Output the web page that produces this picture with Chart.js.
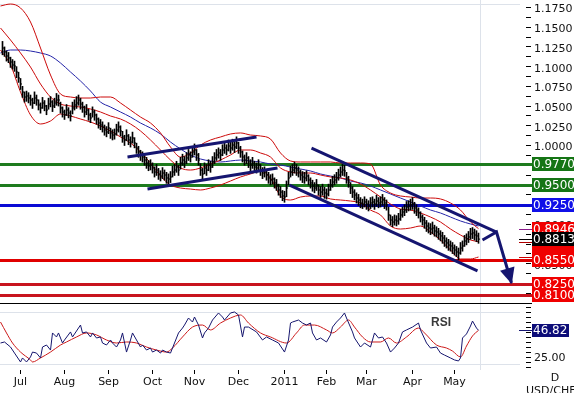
<!DOCTYPE html>
<html><head><meta charset="utf-8">
<script src="https://cdn.jsdelivr.net/npm/chart.js@4/dist/chart.umd.min.js"></script>
<style>
html,body{margin:0;padding:0;background:#fff;overflow:hidden;}
#wrap{position:relative;width:574px;height:393px;}
canvas{position:absolute;left:0;}
#c1{top:0}
#c2{top:304px}
</style></head><body>
<div id="wrap"><canvas id="c1" width="574" height="304"></canvas><canvas id="c2" width="574" height="89"></canvas></div>
<script>
// ---------- DATA (USD/CHF daily, index 0 = 1 Jul 2010, one step per weekday) ----------
const firstBarIndex = -9;
const highs = [
1.132,1.125,1.120,1.118,1.112,1.109,1.107,1.100,1.093,1.085,
1.075,1.068,1.069,1.067,1.064,1.060,1.068,1.064,1.058,1.054,
1.061,1.057,1.051,1.060,1.062,1.057,1.060,1.066,1.064,1.055,
1.049,1.045,1.052,1.048,1.044,1.055,1.058,1.062,1.064,1.060,
1.055,1.050,1.052,1.046,1.041,1.049,1.045,1.040,1.035,1.033,
1.030,1.026,1.024,1.029,1.022,1.020,1.021,1.027,1.030,1.025,
1.018,1.013,1.020,1.014,1.011,1.017,1.010,1.003,0.999,0.994,
0.992,0.988,0.985,0.981,0.982,0.978,0.973,0.976,0.971,0.968,
0.972,0.969,0.966,0.964,0.967,0.974,0.976,0.980,0.975,0.985,
0.989,0.986,0.991,0.995,0.992,0.999,1.002,0.995,0.990,0.977,
0.971,0.978,0.976,0.982,0.980,0.986,0.991,0.995,0.997,0.995,
1.001,1.004,1.001,1.007,1.004,1.008,1.005,1.011,1.004,0.999,
0.993,0.988,0.991,0.986,0.982,0.985,0.980,0.978,0.982,0.976,
0.972,0.973,0.969,0.966,0.963,0.964,0.959,0.957,0.951,0.948,
0.943,0.942,0.955,0.966,0.974,0.976,0.979,0.976,0.973,0.969,
0.967,0.966,0.968,0.963,0.959,0.956,0.953,0.957,0.950,0.948,
0.951,0.947,0.945,0.951,0.957,0.961,0.963,0.966,0.970,0.973,
0.976,0.975,0.966,0.961,0.953,0.948,0.944,0.940,0.938,0.934,
0.932,0.935,0.932,0.930,0.934,0.935,0.932,0.937,0.934,0.935,
0.938,0.934,0.931,0.922,0.912,0.910,0.912,0.911,0.914,0.919,
0.922,0.925,0.929,0.930,0.932,0.934,0.928,0.925,0.921,0.916,
0.912,0.909,0.905,0.902,0.901,0.903,0.899,0.897,0.895,0.892,
0.890,0.886,0.883,0.881,0.879,0.877,0.874,0.872,0.870,0.877,
0.879,0.886,0.888,0.891,0.895,0.896,0.894,0.892,0.889];
const lows = [
1.115,1.113,1.107,1.105,1.099,1.097,1.094,1.086,1.080,1.071,
1.061,1.055,1.056,1.054,1.051,1.047,1.053,1.051,1.045,1.041,
1.047,1.044,1.039,1.046,1.049,1.043,1.048,1.051,1.050,1.041,
1.036,1.033,1.038,1.035,1.031,1.040,1.045,1.047,1.051,1.046,
1.042,1.036,1.039,1.032,1.029,1.036,1.032,1.027,1.022,1.020,
1.017,1.013,1.011,1.015,1.009,1.007,1.008,1.013,1.017,1.012,
1.004,1.000,1.006,1.001,0.998,1.003,0.997,0.990,0.985,0.981,
0.979,0.975,0.971,0.968,0.969,0.965,0.960,0.962,0.957,0.955,
0.958,0.956,0.952,0.951,0.953,0.960,0.962,0.966,0.962,0.970,
0.975,0.972,0.977,0.981,0.979,0.985,0.988,0.981,0.975,0.962,
0.957,0.964,0.962,0.968,0.966,0.972,0.977,0.981,0.984,0.981,
0.987,0.990,0.988,0.993,0.990,0.994,0.991,0.996,0.990,0.985,
0.979,0.975,0.977,0.972,0.968,0.971,0.966,0.965,0.968,0.962,
0.958,0.960,0.956,0.952,0.950,0.951,0.946,0.943,0.937,0.934,
0.930,0.928,0.935,0.950,0.960,0.962,0.965,0.962,0.960,0.956,
0.953,0.952,0.955,0.950,0.946,0.942,0.940,0.943,0.937,0.934,
0.937,0.933,0.932,0.936,0.943,0.947,0.950,0.952,0.956,0.960,
0.962,0.961,0.952,0.947,0.939,0.934,0.931,0.927,0.924,0.921,
0.920,0.922,0.919,0.917,0.920,0.922,0.919,0.923,0.921,0.922,
0.924,0.920,0.918,0.905,0.899,0.897,0.899,0.898,0.900,0.905,
0.909,0.911,0.915,0.917,0.918,0.919,0.914,0.911,0.908,0.903,
0.899,0.895,0.891,0.889,0.887,0.888,0.885,0.884,0.881,0.879,
0.876,0.872,0.870,0.867,0.866,0.863,0.861,0.859,0.855,0.862,
0.866,0.872,0.874,0.877,0.881,0.882,0.880,0.878,0.876];
const closes = [
1.1236,1.1186,1.1135,1.1110,1.1059,1.1021,1.1008,1.0932,1.0856,1.0780,
1.0678,1.0615,1.0628,1.0602,1.0577,1.0539,1.0602,1.0577,1.0514,1.0476,
1.0539,1.0501,1.0450,1.0526,1.0552,1.0501,1.0539,1.0577,1.0577,1.0476,
1.0425,1.0387,1.0450,1.0412,1.0374,1.0476,1.0514,1.0539,1.0577,1.0526,
1.0488,1.0425,1.0450,1.0387,1.0349,1.0425,1.0387,1.0336,1.0285,1.0260,
1.0235,1.0197,1.0171,1.0222,1.0159,1.0133,1.0146,1.0197,1.0235,1.0184,
1.0108,1.0070,1.0121,1.0070,1.0044,1.0095,1.0032,0.9968,0.9918,0.9880,
0.9854,0.9816,0.9778,0.9740,0.9753,0.9715,0.9664,0.9689,0.9639,0.9613,
0.9651,0.9626,0.9588,0.9575,0.9601,0.9664,0.9689,0.9727,0.9689,0.9778,
0.9816,0.9791,0.9842,0.9880,0.9854,0.9918,0.9943,0.9880,0.9816,0.9689,
0.9639,0.9715,0.9689,0.9753,0.9727,0.9791,0.9842,0.9880,0.9905,0.9880,
0.9943,0.9968,0.9943,0.9994,0.9968,1.0006,0.9981,1.0032,0.9968,0.9918,
0.9854,0.9816,0.9842,0.9791,0.9753,0.9778,0.9727,0.9715,0.9753,0.9689,
0.9651,0.9664,0.9626,0.9588,0.9563,0.9575,0.9525,0.9499,0.9436,0.9410,
0.9360,0.9347,0.9461,0.9588,0.9664,0.9689,0.9715,0.9689,0.9664,0.9626,
0.9601,0.9588,0.9613,0.9563,0.9525,0.9487,0.9461,0.9499,0.9436,0.9410,
0.9436,0.9398,0.9385,0.9436,0.9499,0.9537,0.9563,0.9588,0.9626,0.9664,
0.9689,0.9677,0.9588,0.9537,0.9461,0.9410,0.9372,0.9334,0.9309,0.9271,
0.9258,0.9284,0.9258,0.9233,0.9271,0.9284,0.9258,0.9296,0.9271,0.9284,
0.9309,0.9271,0.9246,0.9119,0.9055,0.9030,0.9055,0.9043,0.9068,0.9119,
0.9157,0.9182,0.9220,0.9233,0.9246,0.9258,0.9208,0.9182,0.9144,0.9093,
0.9055,0.9017,0.8979,0.8954,0.8941,0.8954,0.8916,0.8903,0.8878,0.8853,
0.8827,0.8789,0.8764,0.8738,0.8726,0.8700,0.8675,0.8650,0.8637,0.8700,
0.8726,0.8789,0.8814,0.8840,0.8878,0.8891,0.8865,0.8853,0.8813];

const bandIdx = [-10,-5,0,5,10,15,20,25,30,35,40,45,50,55,60,65,70,75,80,85,90,95,100,105,110,115,120,125,130,135,140,145,150,155,160,165,170,175,180,185,190,195,200,205,210,215,220,225,229];
const bbUpper = [1.1769,1.1794,1.1744,1.1566,1.1236,1.0894,1.0653,1.0615,1.0602,1.0602,
1.0615,1.0615,1.0539,1.0450,1.0361,1.0285,1.0159,0.9981,0.9854,0.9905,
1.0006,1.0070,1.0108,1.0146,1.0159,1.0133,1.0121,1.0082,0.9905,0.9804,
0.9791,0.9791,0.9791,0.9791,0.9778,0.9778,0.9778,0.9765,0.9499,0.9398,
0.9360,0.9347,0.9334,0.9334,0.9322,0.9271,0.9182,0.9030,0.8946];
const bbMiddle = [1.1490,1.1338,1.1173,1.0995,1.0780,1.0615,1.0526,1.0501,1.0488,1.0463,
1.0425,1.0374,1.0336,1.0273,1.0184,1.0070,0.9943,0.9816,0.9715,0.9689,
0.9715,0.9765,0.9816,0.9880,0.9943,0.9943,0.9905,0.9854,0.9715,0.9664,
0.9651,0.9651,0.9626,0.9601,0.9588,0.9563,0.9512,0.9436,0.9347,0.9258,
0.9195,0.9182,0.9144,0.9093,0.9030,0.8941,0.8865,0.8802,0.8780];
const bbLower = [1.1211,1.1021,1.0678,1.0387,1.0273,1.0311,1.0399,1.0374,1.0336,1.0298,
1.0247,1.0184,1.0108,1.0032,0.9918,0.9778,0.9613,0.9499,0.9461,0.9448,
0.9436,0.9461,0.9499,0.9550,0.9601,0.9639,0.9677,0.9588,0.9360,0.9309,
0.9347,0.9360,0.9360,0.9322,0.9309,0.9296,0.9271,0.9182,0.9119,0.8979,
0.8941,0.8954,0.8979,0.8903,0.8802,0.8675,0.8561,0.8561,0.8586];
const maBlue = [1.1173,1.1211,1.1211,1.1198,1.1173,1.1135,1.1046,1.0932,1.0818,1.0691,
1.0551,1.0488,1.0425,1.0361,1.0285,1.0222,1.0146,1.0044,0.9956,0.9880,
0.9829,0.9804,0.9791,0.9804,0.9816,0.9804,0.9791,0.9765,0.9753,0.9727,
0.9702,0.9677,0.9639,0.9613,0.9588,0.9550,0.9525,0.9487,0.9436,0.9385,
0.9334,0.9284,0.9233,0.9182,0.9144,0.9093,0.9043,0.9005,0.8979];

// support / resistance levels
const levelValues = [0.9770, 0.9500, 0.9250, 0.8550, 0.8250, 0.8100];
// trend channels and projected arrow [index, price]
const chanRiseTop    = [[53.5, 0.9854], [118, 1.0108]];
const chanRiseBottom = [[63.5, 0.9448], [128.5, 0.9715]];
const chanFallTop    = [[145.5, 0.9968], [238, 0.8903]];
const chanFallBottom = [[134.5, 0.9499], [228.5, 0.8409]];
const arrowPath      = [[231, 0.8802], [238, 0.8903], [245.5, 0.8257]];

// axis labels
const priceTickValues = [1.175,1.15,1.125,1.1,1.075,1.05,1.025,1.0,0.975,0.95,0.925,0.9,0.875,0.85,0.825];
const priceMarkValues = [0.9770, 0.9500, 0.9250, 0.8946, 0.8550, 0.8250, 0.8100, 0.8813];
const priceMarkLabels = ['0.9770','0.9500','0.9250','0.8946','0.8550','0.8250','0.8100','0.8813'];
const monthTicks  = [0, 22, 44, 66, 87, 109, 132, 153, 173, 196, 217];
const monthLabels = ['Jul','Aug','Sep','Oct','Nov','Dec','2011','Feb','Mar','Apr','May'];

// RSI panel
const rsiIdx = [-10,-8,-5,-3,0,1,3,5,6,8,10,11,13,15,16,18,19,21,22,25,26,30,31,33,35,36,38,40,41,43,45,46,48,50,51,53,55,56,58,60,61,63,65,66,68,70,71,73,75,76,77,79,81,82,84,86,87,89,91,92,94,96,99,101,102,105,107,109,111,112,114,118,121,123,126,129,132,134,135,136,139,141,143,145,146,148,150,153,155,156,158,160,162,163,166,167,170,172,175,177,179,181,183,185,187,189,191,193,196,199,200,203,205,208,210,212,215,217,219,220,221,223,225,226,228,229];
const rsiVal = [36.7,37.5,33.5,28.7,21.6,24.8,21.6,25.6,29.5,28.7,24.8,33.5,35.1,31.1,44.7,41.5,44.7,36.7,39.1,45.5,41.5,51.0,44.7,45.5,41.5,44.7,40.7,41.5,36.7,35.1,39.1,36.7,33.5,39.1,44.7,29.5,39.1,44.7,39.1,33.5,35.1,31.1,32.7,29.5,31.1,28.7,31.1,29.5,28.7,32.7,36.7,44.7,48.6,51.0,56.6,53.4,57.4,51.0,40.7,44.7,48.6,55.0,60.6,57.4,55.0,60.6,61.4,59.0,41.5,49.4,49.4,45.5,39.1,41.5,39.1,36.7,29.5,39.1,52.6,53.4,55.0,52.6,51.0,52.6,44.7,39.1,40.7,37.5,43.1,49.4,53.4,56.6,60.6,56.6,45.5,40.7,33.5,36.7,33.5,44.7,40.7,41.5,36.7,29.5,32.7,36.7,45.5,47.1,49.4,52.6,47.1,36.7,32.7,33.5,28.7,27.1,24.8,23.2,22.4,24.8,40.7,43.9,50.2,54.2,48.6,46.82];
const rsiMaIdx = [-10,-7,-4,0,5,6,10,15,20,23,28,33,38,43,48,53,58,63,68,73,76,81,86,91,95,100,105,110,114,120,125,133,138,142,147,153,156,160,164,167,171,175,180,184,188,193,199,202,208,213,216,220,223,226,229];
const rsiMaVal = [53.4,44.7,36.7,29.5,23.2,21.6,24.8,29.5,35.1,37.5,41.5,44.7,43.1,39.1,36.7,37.5,36.7,33.5,31.1,29.5,32.7,41.5,49.4,51.0,47.1,52.6,56.6,59.0,52.6,44.7,41.5,36.7,44.7,51.0,51.0,47.1,44.7,49.4,55.0,49.4,41.5,37.5,37.5,40.7,36.7,41.5,48.6,44.7,35.1,32.7,30.3,25.6,34.3,42.3,46.82];
const rsiGuides = [20, 61.4];
const rsiTickValues = [25];

// ---------- STYLE ----------
const FONT = 'DejaVu Sans';
const X_MIN = -10.25, X_MAX = 252.75;
const P_MIN = 0.79903, P_MAX = 1.1845;
const R_MIN = 15.21, R_MAX = 67.75;
const levelColors = ['#1e7b1e','#1e7b1e','#0b0bd4','#e00000','#c8141e','#c8141e'];
const markColors = ['#157515','#157515','#1010e8','#f00000','#f00000','#f00000','#f00000','#000000'];
const NAVY = '#151570';
Chart.defaults.font.family = FONT;

const pts = (xs, ys) => xs.map((x, k) => ({x, y: ys[k]}));
const pairPts = arr => arr.map(p => ({x: p[0], y: p[1]}));
const lastIdx = firstBarIndex + closes.length - 1;

const lineDs = (data, color, width, order, extra) => Object.assign({
  type: 'line', data, borderColor: color, borderWidth: width, pointRadius: 0,
  fill: false, order, tension: 0
}, extra || {});

const priceOverlay = {
  id: 'priceOverlay',
  beforeDatasetsDraw(chart) {
    const {ctx, chartArea: a, scales: {x, y}} = chart;
    ctx.save();
    ctx.strokeStyle = '#dde2ea'; ctx.lineWidth = 1;
    const gy = Math.round(y.getPixelForValue(1.18)) + 0.5;
    ctx.beginPath(); ctx.moveTo(a.left, gy); ctx.lineTo(a.right - 6, gy); ctx.stroke();
    const vx = Math.round(x.getPixelForValue(lastIdx + 0.5)) + 0.5;
    ctx.beginPath(); ctx.moveTo(vx, a.top); ctx.lineTo(vx, a.bottom); ctx.stroke();
    levelValues.forEach((v, k) => {
      const py = Math.round(y.getPixelForValue(v)) + 0.5;
      ctx.strokeStyle = levelColors[k]; ctx.lineWidth = 3;
      ctx.beginPath(); ctx.moveTo(a.left, py); ctx.lineTo(a.right + 6, py); ctx.stroke();
    });
    ctx.restore();
  },
  afterDraw(chart) {
    const {ctx, scales: {x, y}} = chart;
    ctx.save();
    // arrowhead
    const p1 = {x: x.getPixelForValue(arrowPath[1][0]), y: y.getPixelForValue(arrowPath[1][1])};
    const p2 = {x: x.getPixelForValue(arrowPath[2][0]), y: y.getPixelForValue(arrowPath[2][1])};
    let dx = p2.x - p1.x, dy = p2.y - p1.y; const L = Math.hypot(dx, dy); dx /= L; dy /= L;
    const bx = p2.x - dx * 15, by = p2.y - dy * 15;
    ctx.fillStyle = NAVY;
    ctx.beginPath(); ctx.moveTo(p2.x + dx * 1, p2.y + dy * 1);
    ctx.lineTo(bx - dy * 7.5, by + dx * 7.5); ctx.lineTo(bx + dy * 7.5, by - dx * 7.5); ctx.closePath(); ctx.fill();
    // short markers left of boxes
    const marks = [[bbUpper[bbUpper.length-1], '#8a1a8a'], [closes[closes.length-1], '#000'],
                   [bbMiddle[bbMiddle.length-1], '#b00000'], [bbLower[bbLower.length-1], '#d00000']];
    marks.forEach(m => {
      const py = Math.round(y.getPixelForValue(m[0])) + 0.5;
      ctx.strokeStyle = m[1]; ctx.lineWidth = 1;
      ctx.beginPath(); ctx.moveTo(519, py); ctx.lineTo(532, py); ctx.stroke();
    });
    // red fill between upper-band box and 0.8550 box
    ctx.fillStyle = '#f00000';
    const yTop = Math.round(y.getPixelForValue(priceMarkValues[3])) - 7;
    const yBot = Math.round(y.getPixelForValue(priceMarkValues[4])) + 7;
    ctx.fillRect(532, yTop, 42, yBot - yTop);
    ctx.fillStyle = '#3a2080'; ctx.fillRect(532, yTop, 42, 1);
    // label boxes
    ctx.font = '12px ' + FONT; ctx.textBaseline = 'middle'; ctx.textAlign = 'left';
    priceMarkValues.forEach((v, k) => {
      const py = Math.round(y.getPixelForValue(v));
      ctx.fillStyle = markColors[k];
      ctx.fillRect(532, py - 7, 42, 14);
      ctx.fillStyle = '#fff';
      ctx.fillText(priceMarkLabels[k], 533, py + 1);
    });
    // bottom separator
    ctx.strokeStyle = '#000'; ctx.lineWidth = 1;
    ctx.beginPath(); ctx.moveTo(0, chart.height - 0.5); ctx.lineTo(532, chart.height - 0.5); ctx.stroke();
    ctx.restore();
  }
};

new Chart(document.getElementById('c1'), {
  type: 'bar',
  data: { datasets: [
    lineDs(pairPts(chanRiseTop), NAVY, 3, 0),
    lineDs(pairPts(chanRiseBottom), NAVY, 3, 0),
    lineDs(pairPts(chanFallTop), NAVY, 3, 0),
    lineDs(pairPts(chanFallBottom), NAVY, 3, 0),
    lineDs(pairPts(arrowPath), NAVY, 3, 0),
    { type: 'bar', data: highs.map((h, k) => ({x: firstBarIndex + k, y: [lows[k], h]})),
      backgroundColor: '#000', borderWidth: 0, barThickness: 1, grouped: false, order: 1 },
    lineDs(closes.map((c, k) => ({x: firstBarIndex + k + 0.5, y: c})), '#000', 1, 1,
      { showLine: false, pointStyle: 'line', pointRadius: 0.5, pointBorderWidth: 1, pointBorderColor: '#000' }),
    lineDs(pts(bandIdx, bbUpper), '#cc0a0a', 1, 2, {cubicInterpolationMode: 'monotone'}),
    lineDs(pts(bandIdx, bbMiddle), '#cc0a0a', 1, 2, {cubicInterpolationMode: 'monotone'}),
    lineDs(pts(bandIdx, bbLower), '#cc0a0a', 1, 2, {cubicInterpolationMode: 'monotone'}),
    lineDs(pts(bandIdx, maBlue), '#2424a8', 1, 2, {cubicInterpolationMode: 'monotone'})
  ]},
  options: {
    responsive: false, animation: false, devicePixelRatio: 1,
    layout: { padding: 0, autoPadding: false },
    plugins: { legend: { display: false }, tooltip: { enabled: false } },
    events: [],
    scales: {
      x: { type: 'linear', display: false, min: X_MIN, max: X_MAX, offset: false, grid: { offset: false } },
      y: { type: 'linear', position: 'right', min: P_MIN, max: P_MAX,
        afterBuildTicks: s => {
          const t = [];
          priceTickValues.forEach(v => { t.push({value: v}); t.push({value: +(v - 0.0125).toFixed(4)}); });
          s.ticks = t.filter(o => o.value > P_MIN && o.value < P_MAX).sort((a, b) => a.value - b.value);
        },
        afterFit: s => { s.width = 48; s.paddingTop = 0; s.paddingBottom = 0; },
        ticks: {
          autoSkip: false, padding: 3, labelOffset: 2, color: '#111', font: { family: FONT, size: 11 },
          callback: v => priceTickValues.some(p => Math.abs(p - v) < 1e-6) ? v.toFixed(4) : ''
        },
        grid: { drawOnChartArea: false, tickLength: 5, color: '#000' },
        border: { display: false }
      }
    }
  },
  plugins: [priceOverlay]
});

const rsiOverlay = {
  id: 'rsiOverlay',
  beforeDatasetsDraw(chart) {
    const {ctx, chartArea: a, scales: {x, y}} = chart;
    ctx.save();
    ctx.strokeStyle = '#dde2ea'; ctx.lineWidth = 1;
    rsiGuides.forEach(g => {
      const py = Math.round(y.getPixelForValue(g)) + 0.5;
      ctx.beginPath(); ctx.moveTo(a.left, py); ctx.lineTo(a.right - 6, py); ctx.stroke();
    });
    const vx = Math.round(x.getPixelForValue(lastIdx + 0.5)) + 0.5;
    ctx.beginPath(); ctx.moveTo(vx, 0); ctx.lineTo(vx, a.bottom); ctx.stroke();
    ctx.restore();
  },
  afterDraw(chart) {
    const {ctx, scales: {y}} = chart;
    ctx.save();
    ctx.font = 'bold 12px "Liberation Sans"'; ctx.fillStyle = '#3a3a3a'; ctx.textBaseline = 'middle';
    ctx.fillText('RSI', 431, 19);
    const last = rsiVal[rsiVal.length - 1];
    const py = Math.round(y.getPixelForValue(last));
    ctx.strokeStyle = NAVY; ctx.lineWidth = 1;
    ctx.beginPath(); ctx.moveTo(519, py + 0.5); ctx.lineTo(532, py + 0.5); ctx.stroke();
    ctx.fillStyle = '#0d0d78'; ctx.fillRect(532, py - 6, 37, 13);
    ctx.fillStyle = '#fff'; ctx.font = '12px ' + FONT; ctx.textAlign = 'left';
    ctx.fillText(last.toFixed(2), 533, py + 1);
    ctx.fillStyle = '#111'; ctx.font = '11px ' + FONT; ctx.textAlign = 'center';
    ctx.fillText('D', 555, 74);
    ctx.textAlign = 'left'; ctx.textBaseline = 'top';
    ctx.fillText('USD/CHF', 526, 82);
    ctx.restore();
  }
};

new Chart(document.getElementById('c2'), {
  type: 'line',
  data: { datasets: [
    lineDs(pts(rsiIdx, rsiVal), '#16166e', 1, 0),
    lineDs(pts(rsiMaIdx, rsiMaVal), '#cc1a1a', 1, 1, {cubicInterpolationMode: 'monotone'})
  ]},
  options: {
    responsive: false, animation: false, devicePixelRatio: 1,
    layout: { padding: 0, autoPadding: false },
    plugins: { legend: { display: false }, tooltip: { enabled: false } },
    events: [],
    scales: {
      x: { type: 'linear', min: X_MIN, max: X_MAX, offset: false,
        afterBuildTicks: s => { s.ticks = monthTicks.map(v => ({value: v})); },
        afterFit: s => { s.height = 23; s.paddingLeft = 0; s.paddingRight = 0; },
        ticks: { autoSkip: false, maxRotation: 0, padding: 2, color: '#111', font: { family: FONT, size: 11 },
          callback: (v, i) => monthLabels[i] },
        grid: { drawOnChartArea: false, tickLength: 4, color: '#000' },
        border: { display: false }
      },
      y: { type: 'linear', position: 'right', min: R_MIN, max: R_MAX,
        afterBuildTicks: s => {
          const t = [];
          for (let v = rsiTickValues[0] - 8; v <= 65; v += 4) t.push({value: v});
          s.ticks = t;
        },
        afterFit: s => { s.width = 48; s.paddingTop = 0; s.paddingBottom = 0; },
        ticks: { autoSkip: false, padding: 3, color: '#111', font: { family: FONT, size: 11 },
          callback: v => rsiTickValues.includes(v) ? v.toFixed(2) : '' },
        grid: { drawOnChartArea: false, tickLength: 5, color: '#000' },
        border: { display: false }
      }
    }
  },
  plugins: [rsiOverlay]
});
</script>
</body></html>
